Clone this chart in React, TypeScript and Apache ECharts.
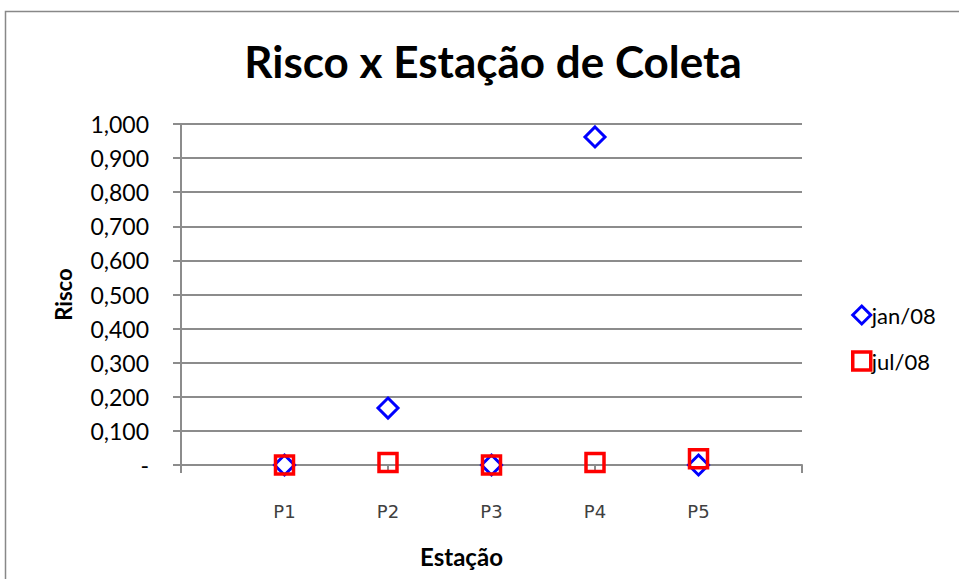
import React, { useEffect, useRef } from "react";
import * as echarts from "echarts";

const stations = ["P1", "P2", "P3", "P4", "P5"];
const jan08 = [0.0, 0.167, 0.0, 0.962, 0.0];
const jul08 = [0.0, 0.007, 0.0, 0.007, 0.018];
const seriesNames = ["jan/08", "jul/08"];

const FONT = "Lato, 'Open Sans', sans-serif";

export default function App() {
  const ref = useRef<HTMLDivElement>(null);
  useEffect(() => {
    document.body.style.margin = "0";
    const chart = echarts.init(ref.current!, null, { renderer: "svg" });
    const toPts = (arr: number[]) => arr.map((v, i) => [i + 1, v]);
    chart.setOption({
      animation: false,
      backgroundColor: "#ffffff",
      title: {
        text: "Risco x Estação de Coleta",
        left: 488,
        textAlign: "center",
        top: 34,
        textStyle: { fontFamily: FONT, fontWeight: "bold", fontSize: 44, color: "#000" },
      },
      graphic: [
        {
          type: "rect",
          shape: { x: 5.5, y: 11.5, width: 1000, height: 700 },
          style: { fill: "none", stroke: "#888", lineWidth: 1.5 },
          silent: true,
        },
      ],
      legend: {
        orient: "vertical",
        left: 846,
        top: 299,
        itemGap: 24,
        itemWidth: 18,
        itemHeight: 18,
        textStyle: { fontFamily: FONT, fontSize: 22, color: "#000", padding: [0, 0, 0, -4] },
        data: [
          { name: seriesNames[0], icon: "diamond", itemStyle: { color: "#fff", borderColor: "#0000ff", borderWidth: 3 } },
          { name: seriesNames[1], icon: "rect", itemStyle: { color: "#fff", borderColor: "#ff0000", borderWidth: 3.5 } },
        ],
      },
      grid: { left: 181, right: 157, top: 124, bottom: 114, containLabel: false },
      xAxis: {
        type: "value",
        min: 0,
        max: 6,
        interval: 1,
        name: "Estação",
        nameLocation: "middle",
        nameGap: 79,
        nameTextStyle: { fontFamily: FONT, fontWeight: "bold", fontSize: 24, color: "#000", padding: [0, 60, 0, 0] },
        axisLine: { onZero: false, lineStyle: { color: "#8c8c8c", width: 2 } },
        axisTick: { show: true, length: 8, lineStyle: { color: "#8c8c8c", width: 2 } },
        splitLine: { show: false },
        axisLabel: {
          margin: 37,
          fontFamily: "'DejaVu Sans', Verdana, sans-serif",
          fontSize: 18,
          color: "#404040",
          formatter: (v: number) => (v >= 1 && v <= stations.length ? stations[v - 1] : ""),
        },
      },
      yAxis: {
        type: "value",
        min: 0,
        max: 1,
        interval: 0.1,
        name: "Risco",
        nameLocation: "middle",
        nameGap: 107,
        nameTextStyle: { fontFamily: FONT, fontWeight: "bold", fontSize: 22, color: "#000" },
        axisLine: { show: true, lineStyle: { color: "#8c8c8c", width: 2 } },
        axisTick: { show: true, length: 8, lineStyle: { color: "#8c8c8c", width: 2 } },
        splitLine: { show: true, lineStyle: { color: "#8c8c8c", width: 2 } },
        axisLabel: {
          margin: 32,
          fontFamily: FONT,
          fontSize: 23,
          color: "#000",
          formatter: (v: number) => (Math.abs(v) < 1e-9 ? "-" : v.toFixed(3).replace(".", ",")),
        },
      },
      series: [
        {
          name: seriesNames[0],
          type: "scatter",
          data: toPts(jan08),
          symbol: "diamond",
          symbolSize: 20,
          itemStyle: { color: "#fff", borderColor: "#0000ff", borderWidth: 3, opacity: 1 },
          z: 2,
        },
        {
          name: seriesNames[1],
          type: "scatter",
          data: toPts(jul08),
          symbol: "rect",
          symbolSize: 18,
          itemStyle: { color: "rgba(0,0,0,0)", borderColor: "#ff0000", borderWidth: 3.5, opacity: 1 },
          z: 3,
        },
      ],
    });
    return () => chart.dispose();
  }, []);
  return <div ref={ref} style={{ width: 959, height: 579 }} />;
}
